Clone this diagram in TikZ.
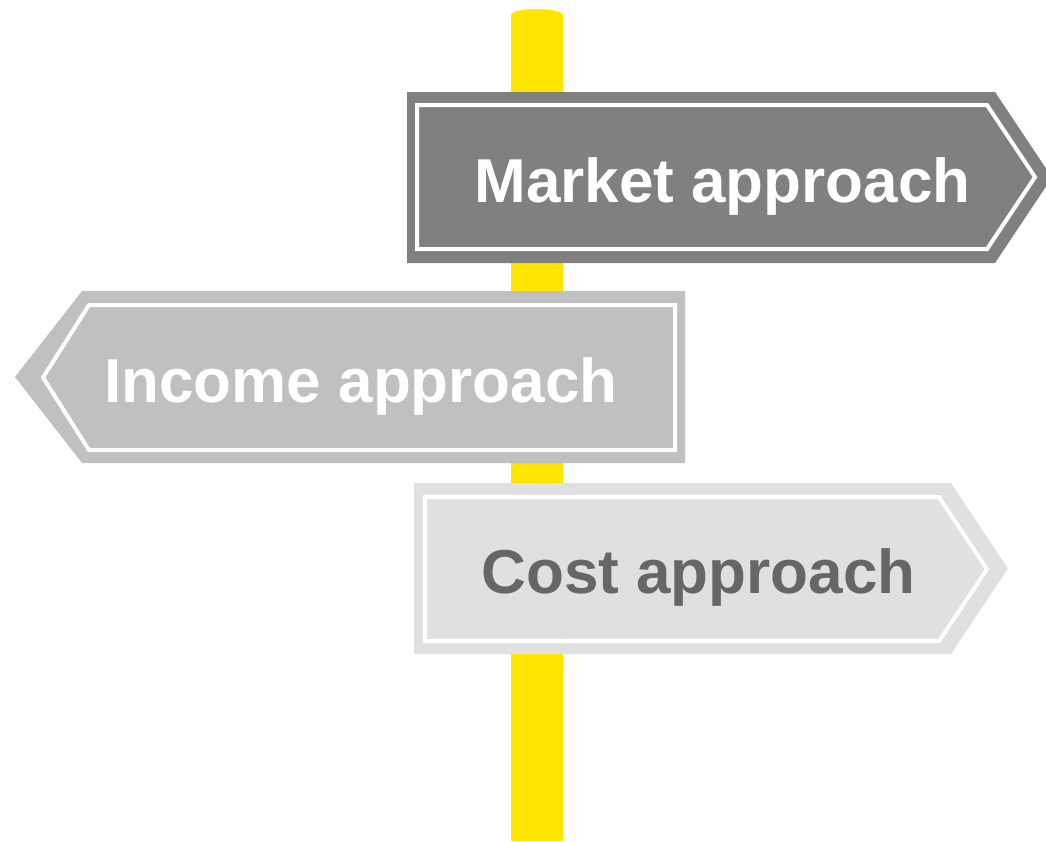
\documentclass[tikz,border=0pt]{standalone}
\usepackage{fontspec}
\setmainfont{Liberation Sans}
\definecolor{poleyellow}{HTML}{FFE500}
\definecolor{marketgrey}{HTML}{808080}
\definecolor{incomegrey}{HTML}{C0C0C0}
\definecolor{costgrey}{HTML}{E0E0E0}
\definecolor{costtext}{HTML}{666666}
\tikzset{
  signouter/.style={draw=none},
  signinner/.style={draw=white, line width=4pt, line join=miter},
  signtext/.style={inner sep=0pt, anchor=base, font=\fontsize{62}{70}\selectfont\bfseries},
}
\begin{document}
\begin{tikzpicture}[x=1pt, y=-1pt]
\useasboundingbox (0,0) rectangle (1046,841);
\clip (0,0) rectangle (1046,841);
% pole
\fill[poleyellow] (511,841) -- (511,15) arc[start angle=180, end angle=360, x radius=26, y radius=6] -- (563,841) -- cycle;
% market sign
\fill[marketgrey] (407,92) -- (995,92) -- (1052,177.5) -- (995,263) -- (407,263) -- cycle;
\draw[signinner] (417,105) -- (987,105) -- (1035,177) -- (987,249) -- (417,249) -- cycle;
\node[signtext, text=white] (market) at (722.5,202) {Market approach};
% income sign
\fill[incomegrey] (685,291) -- (82,291) -- (15,377) -- (82,463) -- (685,463) -- cycle;
\draw[signinner] (675,305) -- (89,305) -- (43,377.5) -- (89,450) -- (675,450) -- cycle;
\node[signtext, text=white] (income) at (361,402) {Income approach};
% cost sign
\fill[costgrey] (414,483) -- (951,483) -- (1008,568.5) -- (951,654) -- (414,654) -- cycle;
\draw[signinner] (425,497) -- (939,497) -- (987,569) -- (939,641) -- (425,641) -- cycle;
\node[signtext, text=costtext] (cost) at (698.5,593) {Cost approach};
\end{tikzpicture}
\end{document}
